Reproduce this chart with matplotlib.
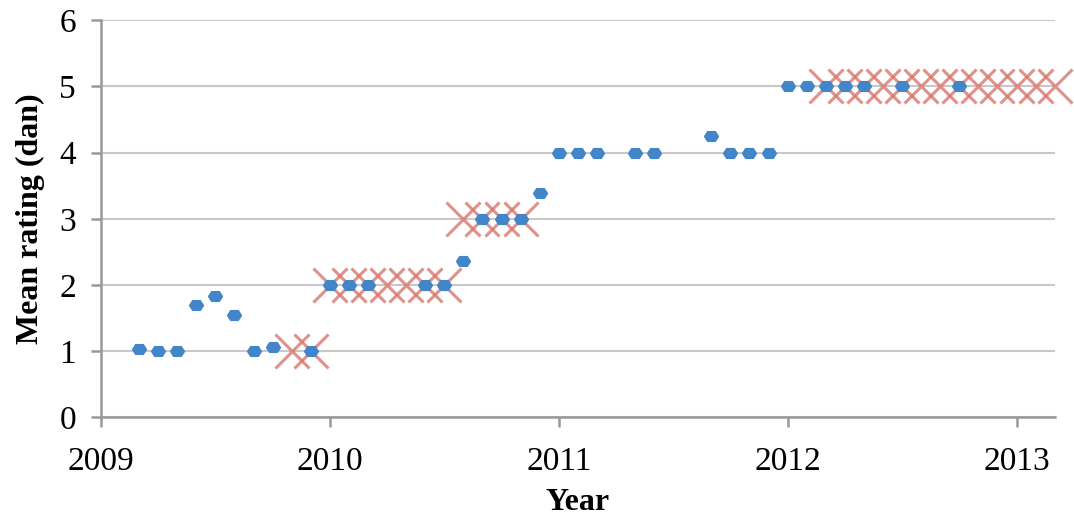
import numpy as np
import matplotlib
matplotlib.use("Agg")
import matplotlib.pyplot as plt

# Monatsindex ab Jan 2009 -> Jahr als Dezimalzahl
month_idx = [2, 3, 4, 5, 6, 7, 8, 9, 11, 12, 13, 14, 17, 18, 19, 20, 21, 22, 23,
             24, 25, 26, 28, 29, 32, 33, 34, 35, 36, 37, 38, 39, 40, 42, 45]
mean_rating = [1.03, 1.0, 1.0, 1.69, 1.83, 1.55, 1.0, 1.06, 1.0, 2.0, 2.0, 2.0, 2.0, 2.0, 2.36, 3.0, 3.0, 3.0, 3.39,
               4.0, 4.0, 4.0, 4.0, 4.0, 4.25, 4.0, 4.0, 4.0, 5.0, 5.0, 5.0, 5.0, 5.0, 5.0, 5.0]

# Markierungen (Kreuze)
cross_idx = [10, 11, 12, 13, 14, 15, 16, 17, 18, 19, 20, 21, 22,
             38, 39, 40, 41, 42, 43, 44, 45, 46, 47, 48, 49, 50]
cross_rating = [1, 1, 2, 2, 2, 2, 2, 2, 2, 3, 3, 3, 3,
                5, 5, 5, 5, 5, 5, 5, 5, 5, 5, 5, 5, 5]

year_ticks = [2009, 2010, 2011, 2012, 2013]

x_pts = 2009 + np.array(month_idx) / 12.0
x_cross = 2009 + np.array(cross_idx) / 12.0

plt.rcParams['font.family'] = ['Liberation Serif', 'DejaVu Serif']

# flaches Sechseck wie bei Excel
hex_marker = [(-1, 0), (-0.55, 0.7), (0.55, 0.7), (1, 0), (0.55, -0.7), (-0.55, -0.7), (-1, 0)]

fig = plt.figure(figsize=(10.74, 5.21), dpi=100)
ax = fig.add_axes([0.094, 0.199, 0.888, 0.762])

ax.plot(x_cross, cross_rating, linestyle='none', marker='x', markersize=24,
        markeredgewidth=2.2, color='#d9776d', alpha=0.8, zorder=2, clip_on=False)
ax.plot(x_pts, mean_rating, linestyle='none', marker=hex_marker, markersize=10,
        color='#4285c9', markeredgecolor='#4285c9', zorder=3, clip_on=False)

ax.set_xlim(2009, 2009 + 50 / 12.0)
ax.set_ylim(0, 6)
ax.set_xticks(year_ticks)
ax.set_xticklabels([str(y) for y in year_ticks])
ax.set_yticks(range(0, 7))

ax.yaxis.grid(True, color='#c8c8c8', linewidth=1.5)
ax.set_axisbelow(True)
for s in ['top', 'right']:
    ax.spines[s].set_visible(False)
for s in ['left', 'bottom']:
    ax.spines[s].set_color('#999999')
    ax.spines[s].set_linewidth(1.8)
ax.tick_params(axis='both', colors='#999999', labelcolor='black', labelsize=24,
               width=1.8, length=7, direction='out')
ax.tick_params(axis='x', pad=14)
ax.tick_params(axis='y', pad=11)

ax.set_xlabel('Year', fontsize=23, fontweight='bold', labelpad=8)
ax.set_ylabel('Mean rating (dan)', fontsize=23, fontweight='bold', labelpad=10)

fig.savefig('out.png', dpi=100)
